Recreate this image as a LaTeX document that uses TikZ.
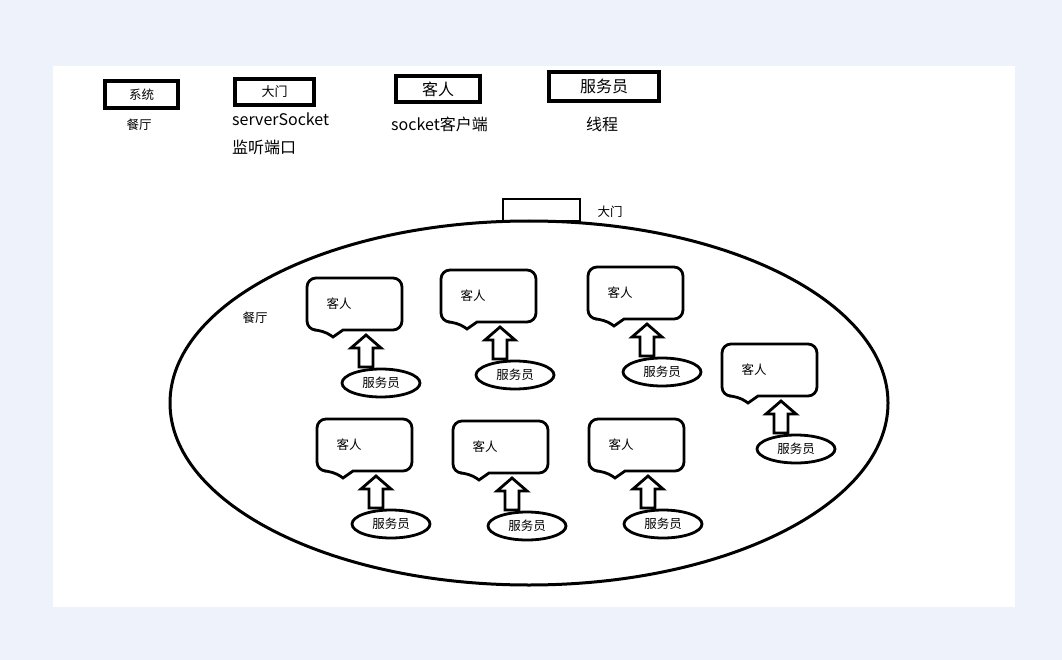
\documentclass[tikz,border=0pt]{standalone}
\usepackage{fontspec}
\setmainfont{Noto Sans CJK SC}
\usetikzlibrary{shapes.geometric}
\definecolor{bg}{RGB}{238,242,250}
\newcommand\fsz[1]{\fontsize{#1}{#1}\selectfont}
\newcommand\guestbubble[3]{%
  \begin{scope}[shift={(#2,#3)}]
    \draw[bubbleline,rounded corners=9] (36,52) -- (95,52) -- (95,0) -- (0,0) -- (0,52) -- (16,52) [sharp corners] -- (26,59) -- cycle;
    \node[smalltext] (g#1) at (32,26) {客人};
    \node[waiter] (w#1) at (74,105) {服务员};
    \coordinate (t#1) at (59,57);
    \draw[bubbleline,line join=miter] (t#1) -- ++(15,13) -- ++(-8,0) -- ++(0,19) -- ++(-14,0) -- ++(0,-19) -- ++(-8,0) -- cycle;
  \end{scope}}
\begin{document}
\begin{tikzpicture}[x=1pt,y=-1pt,
  legendbox/.style={draw,line width=4pt,inner sep=0pt,font=\fsz{16}},
  bubbleline/.style={draw,line width=2.8pt,fill=white},
  smalltext/.style={inner sep=0pt,font=\fsz{12.5}},
  labeltext/.style={inner sep=0pt,font=\fsz{16}},
  waiter/.style={draw,ellipse,line width=2.8pt,minimum width=78pt,minimum height=28pt,inner sep=0pt,font=\fsz{12.5},fill=white}]
\useasboundingbox (0,0) rectangle (1062,660);
\fill[bg] (0,0) rectangle (1062,660);
\fill[white] (53,66) rectangle (1015,607);
% legend
\node[legendbox,minimum width=73pt,minimum height=27pt,font=\fsz{12.5}] (sys) at (141.5,94.5) {系统};
\node[smalltext] (sysl) at (139,125) {餐厅};
\node[legendbox,minimum width=79pt,minimum height=26pt,font=\fsz{13}] (door) at (274.5,92) {大门};
\node[labeltext,anchor=west] (ss) at (232,119) {serverSocket};
\node[labeltext,anchor=west] (ssl) at (232,147) {监听端口};
\node[legendbox,minimum width=84pt,minimum height=26pt] (guest) at (438,89) {客人};
\node[labeltext,anchor=west] (gl) at (391,124) {socket客户端};
\node[legendbox,minimum width=110pt,minimum height=29pt] (srv) at (604,86.5) {服务员};
\node[labeltext] (srvl) at (602,124) {线程};
% restaurant
\node[draw,line width=2.8pt,minimum width=77pt,minimum height=22pt,inner sep=0pt] (gate) at (541.5,210) {};
\node[draw,ellipse,line width=3pt,minimum width=718pt,minimum height=364pt,inner sep=0pt,fill=white] (hall) at (529,403) {};
\node[smalltext] (gatel) at (610,212) {大门};
\node[smalltext] (halll) at (255,318) {餐厅};
\guestbubble{1}{307}{278}
\guestbubble{2}{441}{270}
\guestbubble{3}{588}{267}
\guestbubble{4}{722}{344}
\guestbubble{5}{317}{419}
\guestbubble{6}{453}{421}
\guestbubble{7}{589}{419}
\end{tikzpicture}
\end{document}
